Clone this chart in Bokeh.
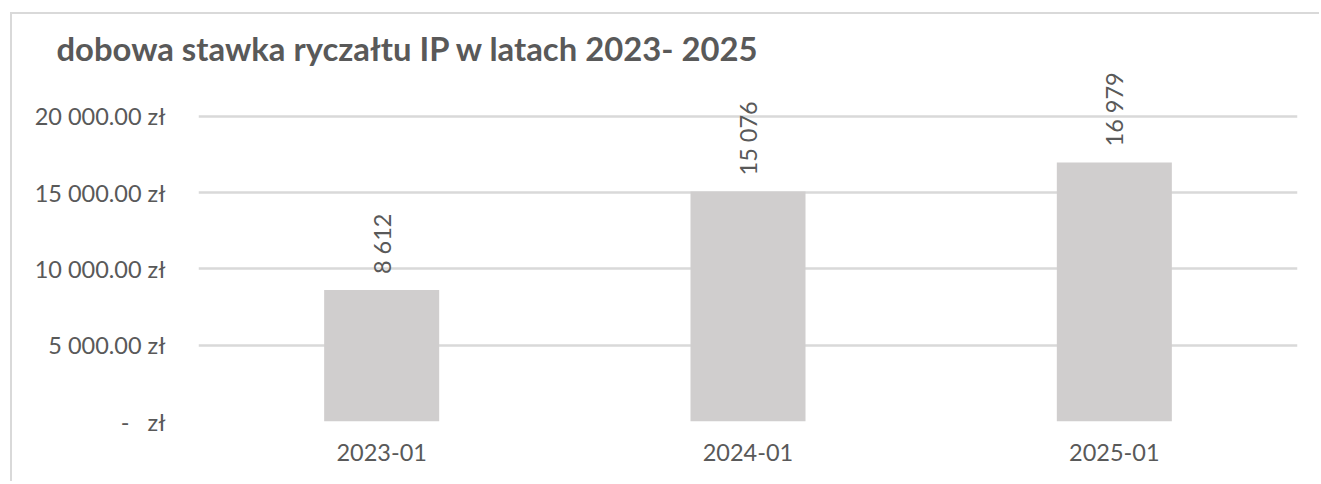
from math import pi
from bokeh.plotting import figure
from bokeh.models import ColumnDataSource, FactorRange, Range1d, FixedTicker
from bokeh.core.properties import value
from bokeh.embed import file_html
from bokeh.resources import INLINE

# ---- data ----
categories = ["2023-01", "2024-01", "2025-01"]
rates = [8612, 15076, 16979]
rate_labels = ["8 612", "15 076", "16 979"]
y_ticks = [0, 5000, 10000, 15000, 20000]
y_tick_labels = ["-\u00a0\u00a0\u00a0zł", "5 000.00 zł", "10 000.00 zł", "15 000.00 zł", "20 000.00 zł"]
title_text = "dobowa stawka ryczałtu IP w latach 2023- 2025"

FONT = "Lato"
TXT = "#595959"
GRID = "#D9D9D9"

src = ColumnDataSource(dict(cat=categories, val=rates, lab=rate_labels))

p = figure(
    x_range=FactorRange(*categories, range_padding=0),
    y_range=Range1d(0, 23400),
    width=1309, height=469, tools="",
    output_backend="svg", toolbar_location=None,
    min_border_left=186, min_border_right=24,
    min_border_top=50, min_border_bottom=62,
)
p.toolbar.logo = None
p.margin = (14, 0, 0, 12)
p.styles = {"box-shadow": "-2px -2px 0 0 #D9D9D9"}

p.title.text = title_text
p.title.text_font = FONT
p.title.text_font_size = "32.8px"
p.title.text_font_style = "bold"
p.title.text_color = TXT
p.title.align = "left"
p.title.offset = -142
p.title.standoff = -7

p.vbar(x="cat", top="val", width=0.314, source=src,
       fill_color="#D0CECE", line_color=None)

p.text(x="cat", y="val", text="lab", source=src, angle=pi / 2,
       text_align="left", text_baseline="middle", y_offset=-16,
       text_font=value(FONT), text_font_size="23.5px", text_color=TXT)

p.outline_line_color = None
p.background_fill_color = "white"
p.border_fill_color = "white"

p.xgrid.grid_line_color = None
p.ygrid.grid_line_color = GRID
p.ygrid.grid_line_width = 2.5
p.yaxis.ticker = FixedTicker(ticks=y_ticks)
p.yaxis.major_label_overrides = {t: l for t, l in zip(y_ticks, y_tick_labels)}

for ax in (p.xaxis, p.yaxis):
    ax.axis_line_color = None
    ax.major_tick_line_color = None
    ax.minor_tick_line_color = None
    ax.major_tick_out = 0
    ax.major_tick_in = 0
    ax.major_label_text_font = FONT
    ax.major_label_text_font_size = "23.5px"
    ax.major_label_text_color = TXT

p.yaxis.major_label_standoff = 33
p.xaxis.major_label_standoff = 22

open("out.html", "w").write(file_html(p, INLINE))
